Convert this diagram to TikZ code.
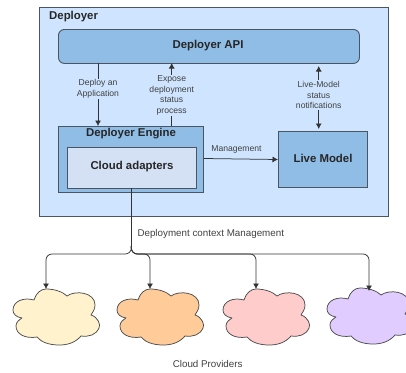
\documentclass[tikz,border=0pt]{standalone}
\usepackage{fontspec}
\setmainfont{Liberation Sans}
\usetikzlibrary{arrows.meta}
\definecolor{bglight}{HTML}{CFE5FF}
\definecolor{boxblue}{HTML}{8FBDE6}
\definecolor{adapter}{HTML}{D4E1F4}
\definecolor{edgegrey}{HTML}{4A5560}
\definecolor{puffyellow}{HTML}{FFF2CC}
\definecolor{pufforange}{HTML}{FFCC99}
\definecolor{puffpink}{HTML}{FFCCCC}
\definecolor{puffviolet}{HTML}{E1CCFF}
\tikzset{
  x=1pt,y=-1pt,
  panel/.style={draw=edgegrey,line width=0.9pt,fill=#1,inner sep=0pt},
  title/.style={font=\bfseries\fontsize{11.4}{13}\selectfont,text=black!85,inner sep=0pt},
  lbl/.style={font=\fontsize{8.6}{10.4}\selectfont,text=black!75,align=center,inner sep=1pt,fill=bglight},
  plain/.style={font=\fontsize{8.6}{10}\selectfont,text=black!75,inner sep=0pt},
  wide/.style={font=\fontsize{9.8}{11}\selectfont,text=black!75,inner sep=0pt},
  link/.style={draw=black!80,line width=0.75pt},
  tip/.style={-{Latex[length=5.5pt,width=6pt]}},
  twotip/.style={{Latex[length=5.5pt,width=6pt]}-{Latex[length=5.5pt,width=6pt]}},
  pics/puff/.style={code={
    \draw[draw=black!70,line width=0.75pt,fill=#1,line join=round]
      (0,21) .. controls (0,12) and (11,8) .. (21,11)
      .. controls (23,4) and (28,0) .. (33,0)
      .. controls (42,0) and (50,3) .. (54,7)
      .. controls (62,1) and (82,3) .. (82,16)
      .. controls (82,20) and (80,23) .. (78,26)
      .. controls (85,28) and (88,36) .. (86,39)
      .. controls (83,46) and (76,48) .. (68,47)
      .. controls (62,54) and (54,56) .. (46,56)
      .. controls (36,56) and (28,53) .. (24,48)
      .. controls (12,50) and (3,45) .. (3,37)
      .. controls (3,33) and (6,31) .. (9,29)
      .. controls (3,28) and (0,25) .. (0,21) -- cycle;
    \coordinate (-top) at (33,0);
  }}
}
\begin{document}
\begin{tikzpicture}
\useasboundingbox (0,0) rectangle (406,372);
\begin{scope}
\clip (0,0) rectangle (406,372);
% frames
\node[panel=bglight,anchor=north west,minimum width=349pt,minimum height=208.5pt] (deployer) at (39,7) {};
\node[title,anchor=west] (deployertitle) at (49,16.5) {Deployer};
\node[panel=boxblue,rounded corners=6pt,anchor=north west,minimum width=301pt,minimum height=34pt] (api) at (58,29) {};
\node[title] (apititle) at (208,45.5) {Deployer API};
\node[panel=boxblue,anchor=north west,minimum width=145pt,minimum height=66pt] (engine) at (58,126) {};
\node[title] (enginetitle) at (131,134) {Deployer Engine};
\node[panel=adapter,anchor=north west,minimum width=129pt,minimum height=41pt] (adapters) at (67,147) {};
\node[title] (adapterstitle) at (132,166.5) {Cloud adapters};
\node[panel=boxblue,anchor=north west,minimum width=89pt,minimum height=56pt] (live) at (278,131) {};
\node[title] (livetitle) at (323,158) {Live Model};
% clouds
\pic (c1) at (13,289) {puff=puffyellow};
\pic (c2) at (117,289) {puff=pufforange};
\pic (c3) at (223,289) {puff=puffpink};
\pic (c4) at (327,288) {puff=puffviolet};
% connectors
\coordinate (apid) at (98,63);
\coordinate (engd) at (98,126);
\draw[link,tip] (apid) -- node[lbl,pos=0.41] {Deploy an\\Application} (engd);
\coordinate (engu) at (171.7,126);
\coordinate (apiu) at (171.7,63);
\draw[link,tip] (engu) -- node[lbl,pos=0.485] {Expose\\deployment\\status\\process} (apiu);
\coordinate (liveu) at (318.7,129);
\coordinate (apil) at (318.7,66);
\draw[link,twotip] (apil) -- node[lbl,pos=0.46] {Live-Model\\status\\notifications} (liveu);
\draw[link,tip] (engine.east |- 0,158.5) -- node[plain,above=5.5pt,pos=0.44] {Management} (live.west |- 0,159.5);
\coordinate (trunk) at (131.3,188);
\coordinate (forkup) at (131.3,246);
\coordinate (fork) at (131.3,254);
\coordinate (c4tip) at (369,291);
\draw[link] (trunk) -- (forkup);
\foreach \c in {c1-top,c2-top,c3-top,c4tip}
  \draw[link,tip,rounded corners=6pt] (forkup) -- (fork) -- (\c |- fork) -- (\c);
\node[wide,anchor=west] (ctx) at (137.3,234) {Deployment context Management};
\node[wide] (providers) at (207.7,363.7) {Cloud Providers};
\end{scope}
\end{tikzpicture}
\end{document}
